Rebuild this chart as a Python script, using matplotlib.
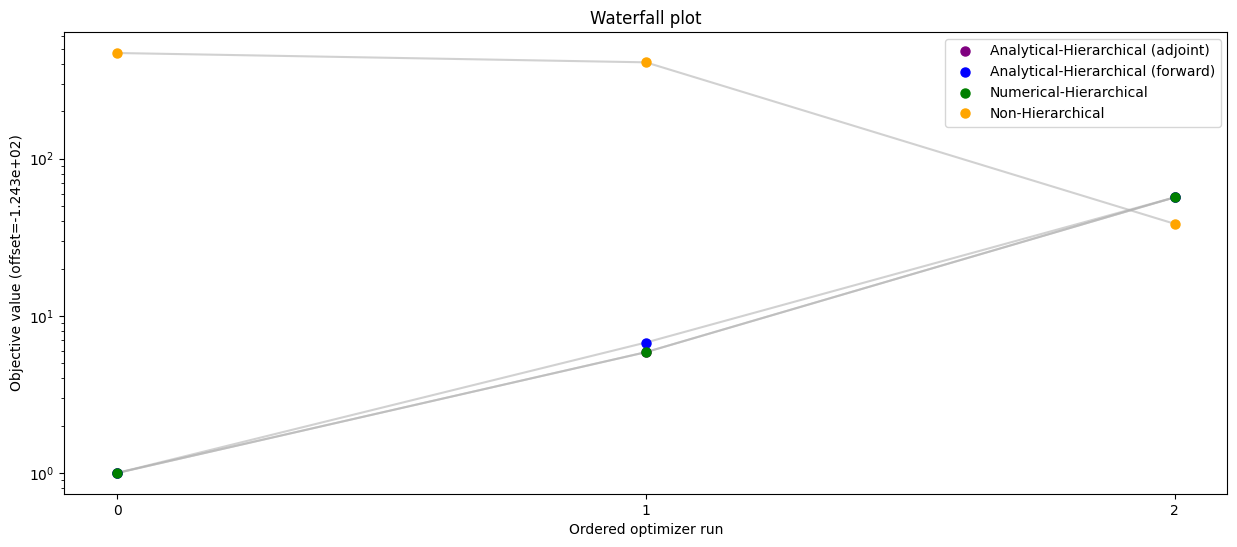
import matplotlib
matplotlib.use("Agg")
import matplotlib.pyplot as plt

runs = [0, 1, 2]
labels = [
    "Analytical-Hierarchical (adjoint)",
    "Analytical-Hierarchical (forward)",
    "Numerical-Hierarchical",
    "Non-Hierarchical",
]
colors = ["purple", "blue", "green", "orange"]
adjoint_vals = [1.0, 5.87, 56.7]
forward_vals = [1.0, 6.76, 56.7]
numerical_vals = [1.0, 5.87, 56.7]
nonhier_vals = [470.0, 410.0, 38.5]
series = [adjoint_vals, forward_vals, numerical_vals, nonhier_vals]

fig = plt.figure(figsize=(12.37, 5.47), dpi=100)
ax = fig.add_axes([0.0519, 0.0969, 0.9404, 0.8446])

for lab, col, vals in zip(labels, colors, series):
    ax.plot(runs, vals, color=(0.7, 0.7, 0.7, 0.6), linewidth=1.5, zorder=1)
    ax.plot(runs, vals, "o", color=col, markersize=6.5, label=lab, zorder=2)

ax.set_yscale("log")
ax.set_xticks(runs)
ax.set_xlabel("Ordered optimizer run")
ax.set_ylabel("Objective value (offset=-1.243e+02)")
ax.set_title("Waterfall plot")
ax.legend(loc="upper right")

fig.savefig("out.png", dpi=100)
